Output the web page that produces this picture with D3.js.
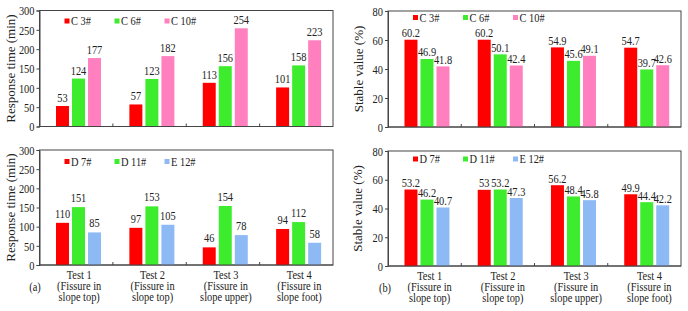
<!DOCTYPE html>
<html><head><meta charset="utf-8">
<script src="https://cdn.jsdelivr.net/npm/d3@7"></script>
<style>
body{margin:0;background:#fff;}
svg{display:block;font-family:"Liberation Serif","Times New Roman",serif;}
</style></head>
<body><svg id="c" width="688" height="311"></svg>
<script>
const categories = [
  ["Test 1", "(Fissure in", "slope top)"],
  ["Test 2", "(Fissure in", "slope top)"],
  ["Test 3", "(Fissure in", "slope upper)"],
  ["Test 4", "(Fissure in", "slope foot)"]
];
const seriesTop = ["C 3#", "C 6#", "C 10#"];
const seriesBottom = ["D 7#", "D 11#", "E 12#"];
const colorsTop = ["#ff0000", "#3dec2c", "#ff7fbf"];
const colorsBottom = ["#ff0000", "#3dec2c", "#8db9f5"];

// Response time (min)
const respC3 = [53, 57, 113, 101];
const respC6 = [124, 123, 156, 158];
const respC10 = [177, 182, 254, 223];
const respD7 = [110, 97, 46, 94];
const respD11 = [151, 153, 154, 112];
const respE12 = [85, 105, 78, 58];
// Stable value (%)
const stabC3 = [60.2, 60.2, 54.9, 54.7];
const stabC6 = [46.9, 50.1, 45.6, 39.7];
const stabC10 = [41.8, 42.4, 49.1, 42.6];
const stabD7 = [53.2, 53, 56.2, 49.9];
const stabD11 = [46.2, 53.2, 48.4, 44.4];
const stabE12 = [40.7, 47.3, 45.8, 42.2];

const respTicks = [0, 50, 100, 150, 200, 250, 300];
const stabTicks = [0, 20, 40, 60, 80];

const svg = d3.select("#c");
const ink = "#222";
const FS = 13;      // font size
const SX = 0.8;     // horizontal squeeze of the original figure

function panel(o) {
  const g = svg.append("g");
  const x0 = d3.scaleBand().domain(d3.range(categories.length)).range([o.left, o.right]);
  const x1 = d3.scaleBand().domain(d3.range(o.series.length))
    .range([x0.bandwidth() * 0.225, x0.bandwidth() * 0.225 + 45]).paddingInner(0.19);
  const y = d3.scaleLinear().domain(o.domain).range([o.bottom, o.top]);

  // frame
  g.append("rect").attr("x", o.left).attr("y", o.top)
    .attr("width", o.right - o.left).attr("height", o.bottom - o.top)
    .attr("fill", "none").attr("stroke", "#444").attr("stroke-width", 1);

  // bars
  o.values.forEach((vals, si) => {
    g.selectAll(null).data(vals).enter().append("rect")
      .attr("x", (d, i) => x0(i) + x1(si))
      .attr("width", x1.bandwidth())
      .attr("y", d => y(d))
      .attr("height", d => o.bottom - y(d))
      .attr("fill", o.colors[si]);
    g.selectAll(null).data(vals).enter().append("g")
      .attr("transform", (d, i) => `translate(${x0(i) + x1(si) + x1.bandwidth() / 2},${y(d) - o.labelGap}) scale(${SX},1)`)
      .append("text")
      .attr("text-anchor", "middle").attr("font-size", FS).attr("fill", ink)
      .text(d => d);
  });

  // y axis
  const ya = g.append("g").attr("transform", `translate(${o.left},0)`)
    .call(d3.axisLeft(y).tickValues(o.ticks).tickSize(3).tickPadding(2).tickFormat(d3.format("d")));
  ya.select(".domain").attr("stroke", "#444");
  ya.selectAll(".tick line").attr("stroke", "#444");
  ya.selectAll(".tick text")
    .attr("x", -5 / SX).attr("transform", `scale(${SX},1)`)
    .attr("font-size", FS).attr("font-family", "Liberation Serif").attr("fill", ink);

  // x axis line + inward ticks between categories
  g.append("line").attr("x1", o.left).attr("x2", o.right).attr("y1", o.bottom).attr("y2", o.bottom)
    .attr("stroke", "#444");
  g.selectAll(null).data(d3.range(1, categories.length)).enter().append("line")
    .attr("x1", i => x0(i)).attr("x2", i => x0(i))
    .attr("y1", o.bottom).attr("y2", o.bottom - 3).attr("stroke", "#444");

  // legend
  o.series.forEach((s, si) => {
    const lx = o.left + 25 + si * 50;
    g.append("rect").attr("x", lx).attr("y", o.top + o.legY - 2.5).attr("width", 5).attr("height", 5)
      .attr("fill", o.colors[si]);
    g.append("g").attr("transform", `translate(${lx + 6.5},${o.top + o.legY + 4}) scale(${SX},1)`)
      .append("text").attr("font-size", FS).attr("fill", ink).text(s);
  });

  // y title
  g.append("text")
    .attr("transform", `translate(${o.titleX},${(o.top + o.bottom) / 2}) rotate(-90)`)
    .attr("text-anchor", "middle").attr("dy", "0.35em").attr("font-size", FS).attr("fill", ink)
    .text(o.title);

  // category labels
  if (o.showX) {
    categories.forEach((lines, i) => {
      const t = g.append("g")
        .attr("transform", `translate(${x0(i) + x0.bandwidth() / 2 + o.xdx},0) scale(${SX},1)`)
        .append("text").attr("text-anchor", "middle").attr("font-size", FS).attr("fill", ink);
      lines.forEach((ln, k) => {
        t.append("tspan").attr("x", 0).attr("y", o.bottom + 14.5 + k * 11).text(ln);
      });
    });
    g.append("g").attr("transform", `translate(${o.tagX},${o.bottom + 25.5}) scale(${SX},1)`)
      .append("text").attr("text-anchor", "middle")
      .attr("font-size", FS).attr("fill", ink).text(o.tag);
  }
}

panel({left: 39.5, right: 333, top: 10.5, bottom: 126.5, domain: [0, 300], ticks: respTicks,
  series: seriesTop, colors: colorsTop, values: [respC3, respC6, respC10],
  title: "Response time (min)", titleX: 10, legY: 10.5, labelGap: 4, showX: false});
panel({left: 388, right: 681, top: 11, bottom: 127, domain: [0, 80], ticks: stabTicks,
  series: seriesTop, colors: colorsTop, values: [stabC3, stabC6, stabC10],
  title: "Stable value (%)", titleX: 358, legY: 6.5, labelGap: 2.5, showX: false});
panel({left: 39.5, right: 333, top: 150, bottom: 265, domain: [0, 300], ticks: respTicks,
  series: seriesBottom, colors: colorsBottom, values: [respD7, respD11, respE12],
  title: "Response time (min)", titleX: 10, legY: 11.5, labelGap: 5, showX: true, xdx: 3, tag: "(a)", tagX: 35});
panel({left: 388, right: 681, top: 151, bottom: 266, domain: [0, 80], ticks: stabTicks,
  series: seriesBottom, colors: colorsBottom, values: [stabD7, stabD11, stabE12],
  title: "Stable value (%)", titleX: 357, legY: 8, labelGap: 2.5, showX: true, xdx: 5, tag: "(b)", tagX: 385});
</script></body></html>
